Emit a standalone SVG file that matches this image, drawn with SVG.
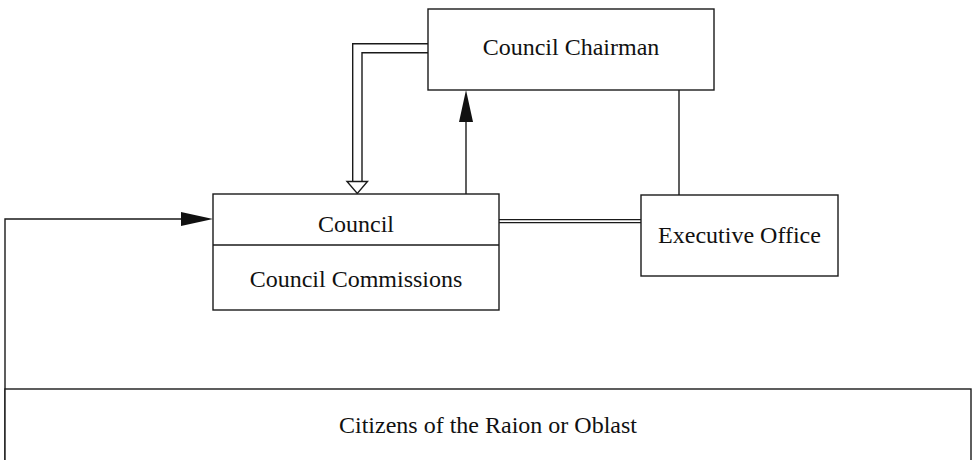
<svg xmlns="http://www.w3.org/2000/svg" width="972" height="460" viewBox="0 0 972 460">
<style>
.box{fill:#fff;stroke:#1a1a1a;stroke-width:1.4}
.ln{fill:none;stroke:#1a1a1a;stroke-width:1.4}
.t{font-family:"Liberation Serif","Times New Roman",serif;font-size:24px;fill:#111;text-anchor:middle}
</style>
<rect width="972" height="460" fill="#fff"/>
<g id="connectors">
  <path class="ln" d="M5,470 V219 H182"/>
  <polygon points="181,212 181,226 213,219" fill="#111"/>
  <path class="ln" d="M466,194 V121"/>
  <polygon points="459,122 473,122 466,90" fill="#111"/>
  <path class="ln" d="M428,43.7 H352.7 V182"/>
  <path class="ln" d="M428,52.7 H362 V182"/>
  <polygon points="347,181.5 367.5,181.5 357.3,193.5" fill="#fff" stroke="#1a1a1a" stroke-width="1.4"/>
  <path class="ln" d="M679,90 V195"/>
  <path class="ln" d="M499,219.6 H641 M499,222.6 H641"/>
</g>
<g id="chairman">
  <rect class="box" x="428" y="9" width="286" height="81"/>
  <text class="t" x="571" y="55">Council Chairman</text>
</g>
<g id="council">
  <rect class="box" x="213" y="194" width="286" height="116"/>
  <line class="ln" x1="213" y1="245" x2="499" y2="245"/>
  <text class="t" x="356" y="232">Council</text>
  <text class="t" x="356" y="287">Council Commissions</text>
</g>
<g id="executive">
  <rect class="box" x="641" y="195" width="197" height="81"/>
  <text class="t" x="739.5" y="243">Executive Office</text>
</g>
<g id="citizens">
  <rect class="box" x="5" y="389" width="966" height="100"/>
  <text class="t" x="488" y="433">Citizens of the Raion or Oblast</text>
</g>
</svg>
